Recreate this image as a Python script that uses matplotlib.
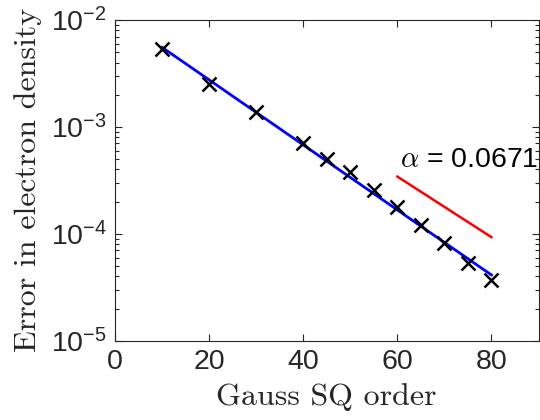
import matplotlib
matplotlib.use("Agg")
import matplotlib.pyplot as plt
from matplotlib.ticker import LogLocator, NullFormatter, NullLocator

# data
sq_order = [10, 20, 30, 40, 45, 50, 55, 60, 65, 70, 75, 80]
density_err = [5.36e-3, 2.51e-3, 1.39e-3, 7.1e-4, 5.0e-4, 3.76e-4,
               2.57e-4, 1.79e-4, 1.21e-4, 8.2e-5, 5.3e-5, 3.66e-5]

fit_x = [10, 80]
fit_y = [5.55e-3, 4.12e-5]

ref_x = [60, 80]
ref_y = [3.43e-4, 9.3e-5]

alpha_label = r"$\alpha$ = 0.0671"

plt.rcParams["font.family"] = ["Liberation Sans", "DejaVu Sans"]
plt.rcParams["mathtext.fontset"] = "cm"

AX_COLOR = "#262626"

fig = plt.figure(figsize=(5.4, 4.2), dpi=100)
ax = fig.add_axes([115 / 540, 1 - 340.7 / 420, 423.5 / 540, 320.7 / 420])

ax.semilogy(fit_x, fit_y, color="#0000ff", linewidth=2.0, zorder=2)
ax.semilogy(sq_order, density_err, linestyle="none", marker="x",
            color="black", markersize=10, markeredgewidth=1.8, zorder=3)
ax.semilogy(ref_x, ref_y, color="#ff0000", linewidth=1.8, zorder=2)

ax.text(60.5, 3.7e-4, alpha_label, fontsize=20.5, color="black",
        ha="left", va="bottom", clip_on=False)

ax.set_xlim(0, 90)
ax.set_ylim(1e-5, 1e-2)
ax.set_xticks([0, 20, 40, 60, 80])
ax.xaxis.set_minor_locator(NullLocator())
ax.yaxis.set_major_locator(LogLocator(base=10, numticks=10))
ax.yaxis.set_minor_locator(LogLocator(base=10, subs=range(2, 10), numticks=20))
ax.yaxis.set_minor_formatter(NullFormatter())

ax.tick_params(which="both", direction="in", top=True, right=True,
               colors=AX_COLOR, labelcolor=AX_COLOR, width=0.8)
ax.tick_params(which="major", length=5, labelsize=20.5, pad=6)
ax.tick_params(which="minor", length=3)
for sp in ax.spines.values():
    sp.set_color(AX_COLOR)
    sp.set_linewidth(0.8)

ax.set_xlabel("Gauss SQ order", fontfamily="cmr10", fontsize=23,
              labelpad=6, color=AX_COLOR)
ax.set_ylabel("Error in electron density", fontfamily="cmr10", fontsize=23,
              labelpad=6, color=AX_COLOR)

fig.savefig("out.png", dpi=100)
